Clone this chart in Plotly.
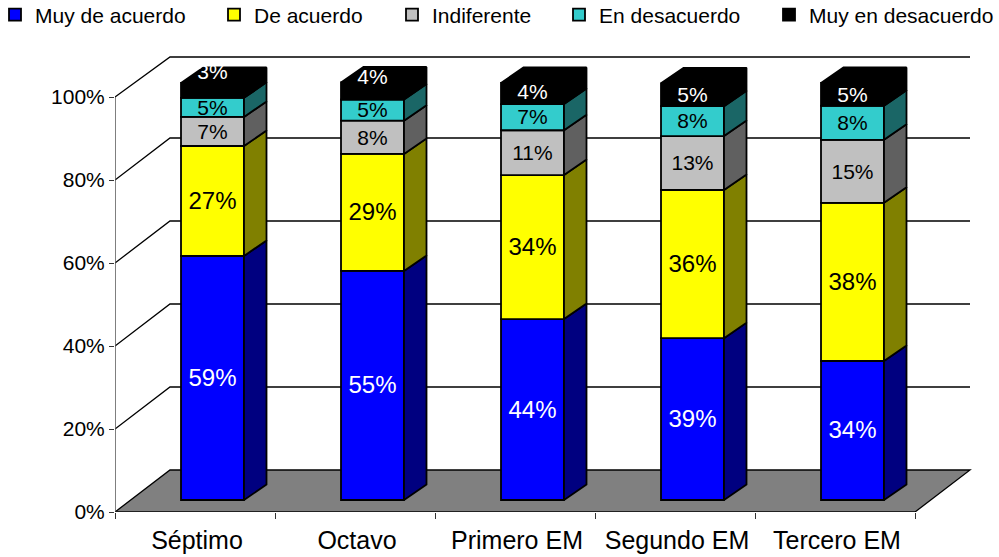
import plotly.graph_objects as go

categories = ["Séptimo", "Octavo", "Primero EM", "Segundo EM", "Tercero EM"]
series_names = ["Muy de acuerdo", "De acuerdo", "Indiferente", "En desacuerdo", "Muy en desacuerdo"]

muy_de_acuerdo = [58.8, 55.2, 43.6, 39.0, 33.5]
de_acuerdo = [26.5, 28.2, 34.7, 35.7, 38.1]
indiferente = [7.0, 8.0, 10.8, 13.0, 15.2]
en_desacuerdo = [4.6, 5.1, 6.3, 7.2, 8.2]
muy_en_desacuerdo = [3.6, 4.1, 5.1, 5.5, 5.5]
series_values = [muy_de_acuerdo, de_acuerdo, indiferente, en_desacuerdo, muy_en_desacuerdo]

labels_muy_de_acuerdo = ["59%", "55%", "44%", "39%", "34%"]
labels_de_acuerdo = ["27%", "29%", "34%", "36%", "38%"]
labels_indiferente = ["7%", "8%", "11%", "13%", "15%"]
labels_en_desacuerdo = ["5%", "5%", "7%", "8%", "8%"]
labels_muy_en_desacuerdo = ["3%", "4%", "4%", "5%", "5%"]
series_labels = [labels_muy_de_acuerdo, labels_de_acuerdo, labels_indiferente,
                 labels_en_desacuerdo, labels_muy_en_desacuerdo]

y_ticks = [0, 20, 40, 60, 80, 100]
y_tick_labels = ["0%", "20%", "40%", "60%", "80%", "100%"]

front_colors = ["#0000FF", "#FFFF00", "#C0C0C0", "#33CCCC", "#000000"]
side_colors = ["#000080", "#808000", "#606060", "#1A6666", "#000000"]
text_colors = ["#FFFFFF", "#000000", "#000000", "#000000", "#FFFFFF"]
text_sizes = [24, 24, 21, 21, 21]
label_lift = [0, 0, 0, 0, 1]  # only the top series has lifted labels
top_lift = [4.4, 3.4, 0.4, 0, 0]

FONT = "Liberation Sans"
W, H = 999, 557
L, R, T, B = 115, 975, 50, 512
PX_X, PX_Y = 160.0, 4.15
x_max = (R - L) / PX_X
y_max = (B - T) / PX_Y

# 3-D projection, in data units
wall_dx, wall_dy = 55 / PX_X, 42 / PX_Y
wall_top = (B - 57) / PX_Y
bar_off_x, bar_base = 17.5 / PX_X, 12 / PX_Y
bar_w = 63 / PX_X
bar_dx, bar_dy = 22.5 / PX_X, 15.5 / PX_Y
label_nudge = 2 / PX_Y
cat_label_nudge = 2 / PX_X
n = len(categories)
centers = [i + 0.5 + bar_off_x for i in range(n)]

fig = go.Figure()
shapes = []
line_black = dict(color="#000000", width=1.3)

# floor
shapes.append(dict(type="path", layer="below", xref="x", yref="y",
                   path=f"M0,0 L{wall_dx},{wall_dy} L{n + wall_dx},{wall_dy} L{n},0 Z",
                   fillcolor="#808080", line=line_black))
# gridlines on the wall
for t in y_ticks[1:]:
    back = min(t + wall_dy, wall_top)
    shapes.append(dict(type="path", layer="below", xref="x", yref="y",
                       path=f"M0,{t} L{wall_dx},{back} L{n + wall_dx},{back}",
                       line=line_black))
# axis lines
shapes.append(dict(type="line", layer="below", xref="x", yref="y", x0=0, x1=0, y0=0, y1=100,
                   line=dict(color="#555555", width=1.5)))
shapes.append(dict(type="line", layer="below", xref="x", yref="y", x0=0, x1=n, y0=0, y1=0,
                   line=dict(color="#222222", width=1.5)))

legend_ids = ["legend", "legend2", "legend3", "legend4", "legend5"]
legend_left = [-5, 214, 392, 559, 769]

cum = [bar_base] * n
for s, vals in enumerate(series_values):
    # front faces
    fig.add_trace(go.Bar(
        x=centers, y=vals, base=list(cum), width=bar_w, name=series_names[s],
        marker=dict(color=front_colors[s], line=dict(color="#000000", width=1.8)),
        legend=legend_ids[s], hoverinfo="skip",
    ))
    # side faces
    sx, sy = [], []
    for i, v in enumerate(vals):
        xr = centers[i] + bar_w / 2
        sx += [xr, xr + bar_dx, xr + bar_dx, xr, xr, None]
        sy += [cum[i], cum[i] + bar_dy, cum[i] + v + bar_dy, cum[i] + v, cum[i], None]
    fig.add_trace(go.Scatter(x=sx, y=sy, mode="lines", fill="toself", fillcolor=side_colors[s],
                             line=dict(color="#000000", width=1.8), showlegend=False, hoverinfo="skip"))
    cum = [c + v for c, v in zip(cum, vals)]

# top faces
tx, ty = [], []
for i in range(n):
    xl, xr = centers[i] - bar_w / 2, centers[i] + bar_w / 2
    tx += [xl, xl + bar_dx, xr + bar_dx, xr, xl, None]
    ty += [cum[i], cum[i] + bar_dy, cum[i] + bar_dy, cum[i], cum[i], None]
fig.add_trace(go.Scatter(x=tx, y=ty, mode="lines", fill="toself", fillcolor="#000000",
                         line=dict(color="#000000", width=1.8), showlegend=False, hoverinfo="skip"))

# data labels
cum = [bar_base] * n
for s, vals in enumerate(series_values):
    ys = [c + v / 2 + label_lift[s] * top_lift[i] - label_nudge for i, (c, v) in enumerate(zip(cum, vals))]
    fig.add_trace(go.Scatter(x=centers, y=ys, mode="text", text=series_labels[s],
                             textposition="middle center",
                             textfont=dict(family=FONT, size=text_sizes[s], color=text_colors[s]),
                             showlegend=False, hoverinfo="skip", cliponaxis=False))
    cum = [c + v for c, v in zip(cum, vals)]

legends = {}
for lid, left in zip(legend_ids, legend_left):
    legends[lid] = dict(x=(left - L) / (R - L), xanchor="left", y=(B - 15) / (B - T), yanchor="middle",
                        bgcolor="rgba(0,0,0,0)", borderwidth=0, itemwidth=30,
                        font=dict(family=FONT, size=21, color="#000000"),
                        itemclick=False, itemdoubleclick=False)

fig.update_layout(
    width=W, height=H, autosize=False,
    margin=dict(l=L, r=W - R, t=T, b=H - B, pad=0, autoexpand=False),
    paper_bgcolor="#FFFFFF", plot_bgcolor="#FFFFFF",
    barmode="overlay", shapes=shapes, showlegend=True,
    font=dict(family=FONT, color="#000000"),
    xaxis=dict(range=[0, x_max], showgrid=False, zeroline=False, showline=False,
               tickmode="array", tickvals=[i + 0.5 + cat_label_nudge for i in range(n)], ticktext=categories,
               ticks="", tickfont=dict(family=FONT, size=25), ticklabelstandoff=11,
               minor=dict(tickmode="array", tickvals=list(range(n + 1)), ticks="outside",
                          ticklen=6, tickcolor="#333333", tickwidth=1, showgrid=False)),
    yaxis=dict(range=[0, y_max], showgrid=False, zeroline=False, showline=False,
               tickmode="array", tickvals=y_ticks, ticktext=y_tick_labels,
               ticks="outside", ticklen=5, tickcolor="#333333", tickwidth=1,
               tickfont=dict(family=FONT, size=21)),
    **legends,
)

fig.write_html("out.html", config={"displayModeBar": False},
               post_script="document.body.style.margin='0';")
